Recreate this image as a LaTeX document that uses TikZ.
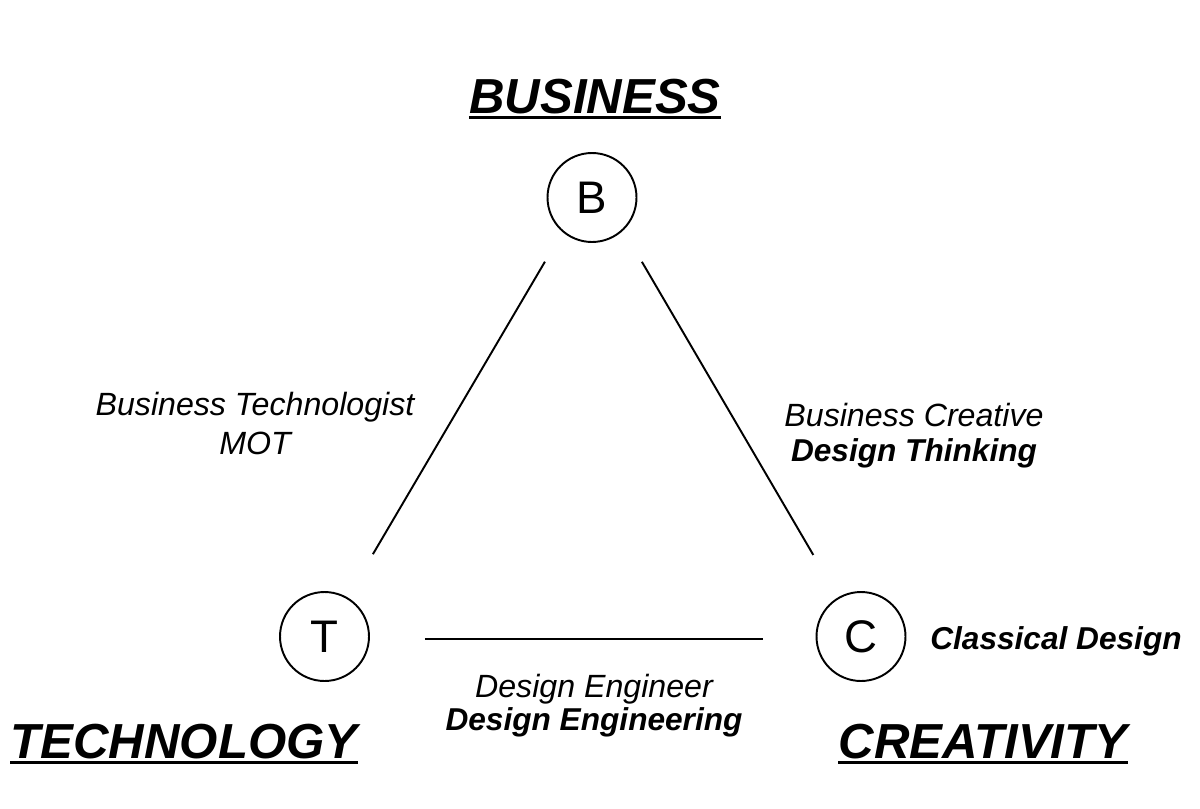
\documentclass[tikz,border=0pt]{standalone}
\usepackage{fontspec}
\setmainfont{Liberation Sans}
\begin{document}
\begin{tikzpicture}[x=0.02cm, y=-0.02cm,
    vertex/.style={draw, circle, line width=1.1pt, minimum size=1.78cm, inner sep=0pt, font=\fontsize{26}{30}\selectfont},
    heading/.style={anchor=base, inner sep=0pt, font=\bfseries\itshape\fontsize{28}{33}\selectfont},
    role/.style={anchor=base, inner sep=0pt, font=\itshape\fontsize{18.3}{22}\selectfont},
    field/.style={anchor=base, inner sep=0pt, font=\bfseries\itshape\fontsize{18}{22}\selectfont},
    link/.style={line width=1.1pt},
    rule/.style={line width=1.7pt}]
    \useasboundingbox (0,0) rectangle (1200,808);

    % corners
    \node[vertex] (B) at (592,197.5) {B};
    \node[vertex] (T) at (324.5,636.5) {T};
    \node[vertex] (C) at (861,636.5) {C};

    % sides
    \draw[link, shorten <=1.49cm, shorten >=1.91cm] ([xshift=-5.3pt]B.center) -- (T.center);
    \draw[link, shorten <=1.49cm, shorten >=1.89cm] ([xshift=7pt]B.center) -- (C.center);
    \draw[link, shorten <=1.1cm, shorten >=1.05cm] ([yshift=-1.5pt]T.east) -- ([yshift=-1.5pt]C.west);

    % headings
    \node[heading] (business) at (595,113) {BUSINESS};
    \node[heading] (technology) at (184,758) {TECHNOLOGY};
    \node[heading] (creativity) at (983,758) {CREATIVITY};
    \foreach \h in {business, technology, creativity}
        \draw[rule] ([yshift=-2.8pt]\h.base west) -- ([yshift=-2.8pt]\h.base east);

    % side labels
    \node[role] (bt) at (255,415) {Business Technologist};
    \node[role] (mot) at (255,454) {MOT};
    \node[role] (bc) at (914,426) {Business Creative};
    \node[field] (dt) at (914,461) {Design Thinking};
    \node[role] (de) at (594,697) {Design Engineer};
    \node[field] (deg) at (594,730) {Design Engineering};
    \node[field] (cd) at (1056,649) {Classical Design};
\end{tikzpicture}
\end{document}
